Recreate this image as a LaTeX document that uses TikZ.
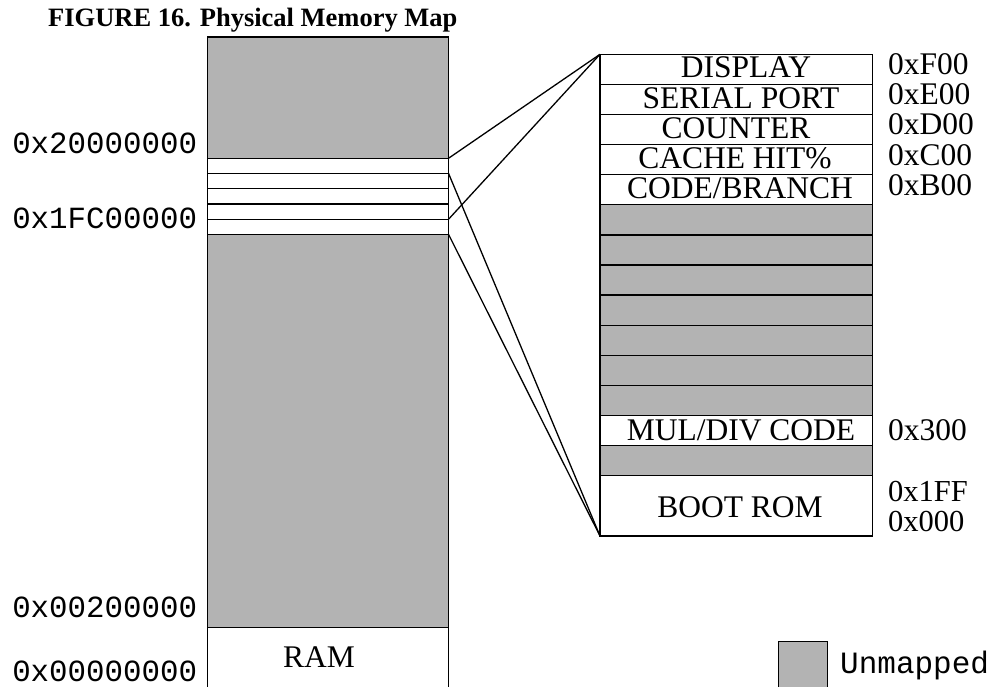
\documentclass[tikz,border=0pt]{standalone}
\usepackage{fontspec}
\setmainfont{Liberation Serif}
\newfontfamily\monofam{Liberation Mono}
\definecolor{unm}{RGB}{179,179,179}
\begin{document}
\begin{tikzpicture}[x=1pt,y=-1pt,
  box/.style={draw=black,line width=1.4pt},
  unmapped/.style={box,fill=unm},
  lbl/.style={font=\fontsize{31.5}{31.5}\selectfont,anchor=base,inner sep=0pt},
  hexlbl/.style={font=\fontsize{31.5}{31.5}\selectfont,anchor=base west,inner sep=0pt},
  addr/.style={font=\monofam\fontsize{30.8}{30.8}\selectfont,anchor=base east,inner sep=0pt},
  fan/.style={draw=black,line width=1.3pt}]
\useasboundingbox (0,0) rectangle (994,687);

% title
\node[font=\bfseries\fontsize{26.5}{26.5}\selectfont,anchor=base west,inner sep=0pt] (title) at (48,27) {FIGURE 16. Physical Memory Map};

% left column
\draw[unmapped] (207.3,37) rectangle (448.5,158.3);
\foreach \t/\b in {158.3/173.3,173.3/188.6,188.6/204,204/219.3,219.3/234.3}
  \draw[box] (207.3,\t) rectangle (448.5,\b);
\draw[unmapped] (207.3,234.3) rectangle (448.5,627.7);
\draw[box] (207.3,690) -- (207.3,627.7) -- (448.5,627.7) -- (448.5,690);
\node[lbl] (ram) at (319,667) {RAM};

% left address labels
\node[addr] (a1) at (197.3,154) {0x20000000};
\node[addr] (a2) at (197.3,229) {0x1FC00000};
\node[addr] (a3) at (197.3,617) {0x00200000};
\node[addr] (a4) at (197.3,681.7) {0x00000000};

% right column
\def\rl{600}\def\rr{872.5}
\foreach \k in {0,...,4}
  \draw[box] (\rl,{54.3+30.1*\k}) rectangle (\rr,{54.3+30.1*(\k+1)});
\foreach \k in {5,...,11,13}
  \draw[unmapped] (\rl,{54.3+30.1*\k}) rectangle (\rr,{54.3+30.1*(\k+1)});
\draw[box] (\rl,{54.3+30.1*12}) rectangle (\rr,{54.3+30.1*13});
\draw[box] (\rl,{54.3+30.1*14}) rectangle (\rr,536);

\node[lbl] (display) at (746,77.7) {DISPLAY};
\node[lbl] (serial) at (741,108.3) {SERIAL PORT};
\node[lbl] (counter) at (736,138.5) {COUNTER};
\node[lbl] (cache) at (735,168.5) {CACHE HIT\%};
\node[lbl] (code) at (740,198.5) {CODE/BRANCH};
\node[lbl] (muldiv) at (741,440) {MUL/DIV CODE};
\node[lbl] (boot) at (740,517) {BOOT ROM};

\node[hexlbl] (hF) at (888,74.3) {0xF00};
\node[hexlbl] (hE) at (888,104.6) {0xE00};
\node[hexlbl] (hD) at (888,135) {0xD00};
\node[hexlbl] (hC) at (888,165.5) {0xC00};
\node[hexlbl] (hB) at (888,195.8) {0xB00};
\node[hexlbl] (h3) at (888,440) {0x300};
\node[hexlbl,font=\fontsize{30.5}{30.5}\selectfont] (h1) at (888,501) {0x1FF};
\node[hexlbl,font=\fontsize{30.5}{30.5}\selectfont] (h0) at (888,531) {0x000};

% fan connectors
\coordinate (s0) at (448.5,158.3);
\coordinate (s1) at (448.5,173.3);
\coordinate (s4) at (448.5,219.3);
\coordinate (s5) at (448.5,234.3);
\coordinate (rt) at (600,54.3);
\coordinate (rb) at (600,536);
\draw[fan] (s0) -- (rt);
\draw[fan] (s4) -- (rt);
\draw[fan] (s1) -- (rb);
\draw[fan] (s5) -- (rb);

% legend
\draw[unmapped] (778.3,641.7) rectangle (827.3,690);
\node[font=\monofam\fontsize{31}{31}\selectfont,anchor=base west,inner sep=0pt] (legend) at (840,673) {Unmapped};
\end{tikzpicture}
\end{document}
